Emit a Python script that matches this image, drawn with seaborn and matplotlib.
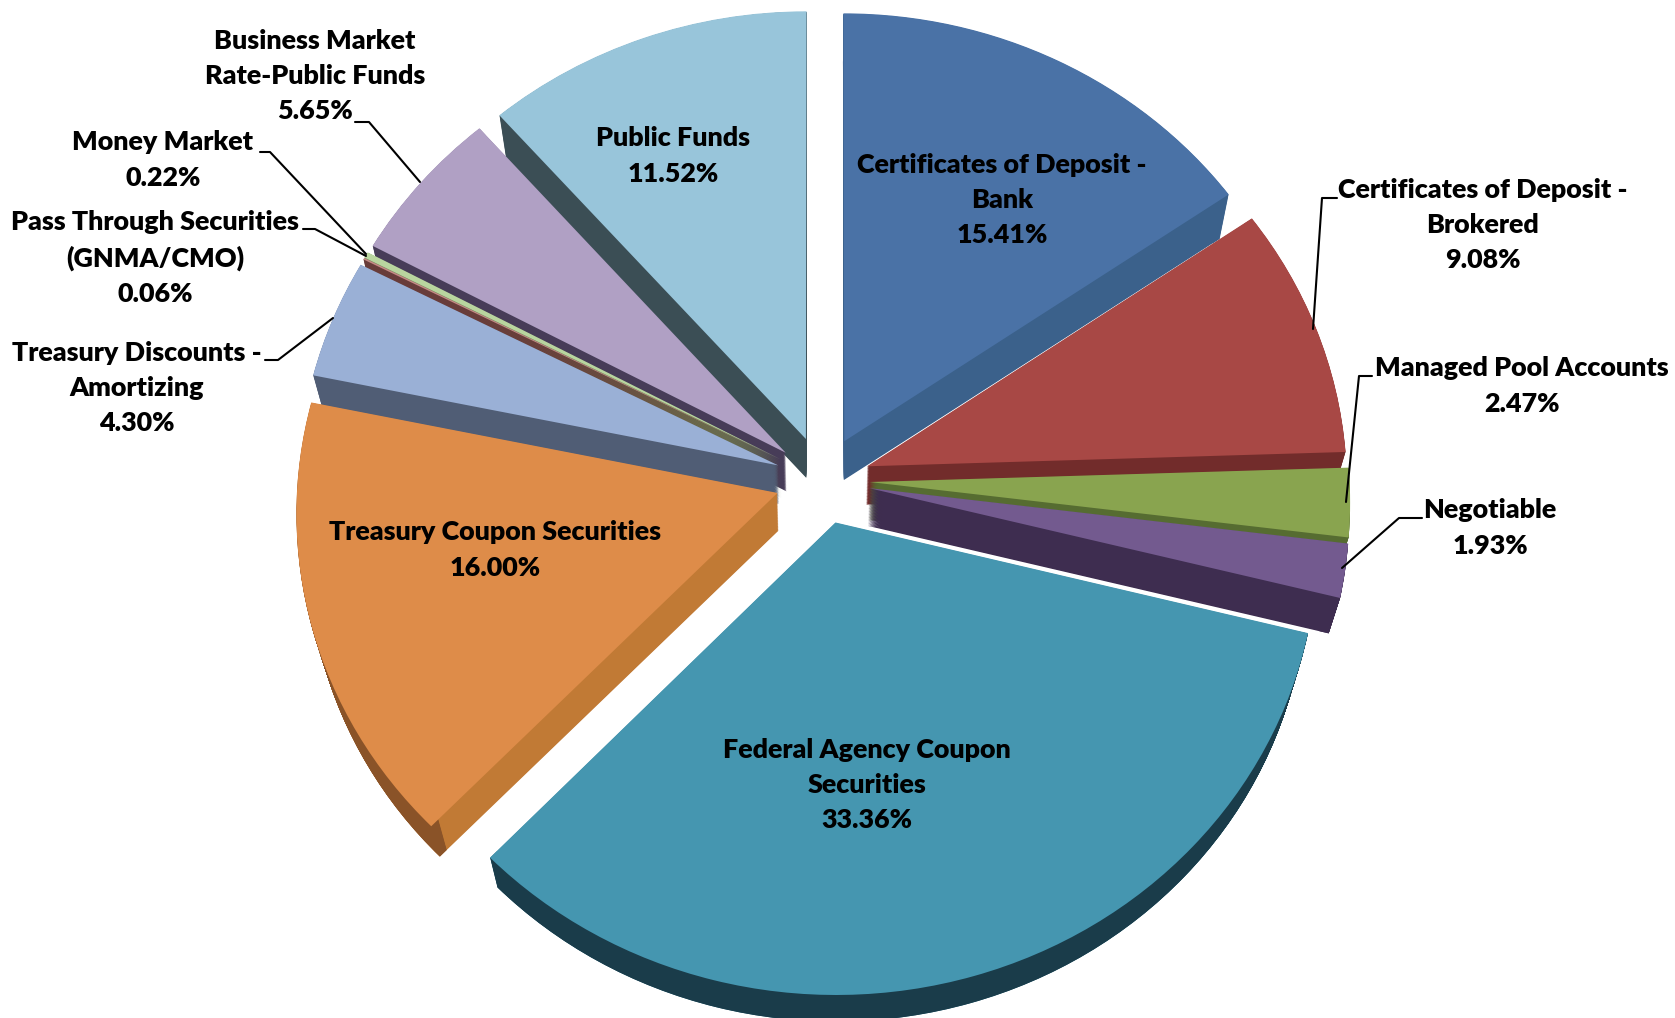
import matplotlib
matplotlib.use("Agg")
import matplotlib.pyplot as plt
import numpy as np
import seaborn as sns
from matplotlib.transforms import Affine2D, Transform

names = [
    "Certificates of Deposit -\nBank",
    "Certificates of Deposit -\nBrokered",
    "Managed Pool Accounts",
    "Negotiable",
    "Federal Agency Coupon\nSecurities",
    "Treasury Coupon Securities",
    "Treasury Discounts -\nAmortizing",
    "Pass Through Securities\n(GNMA/CMO)",
    "Money Market",
    "Business Market\nRate-Public Funds",
    "Public Funds",
]
shares = [15.41, 9.08, 2.47, 1.93, 33.36, 16.00, 4.30, 0.06, 0.22, 5.65, 11.52]

top_colors = ["#4a72a6", "#a84845", "#89a44f", "#735a8f", "#4596b0", "#de8c49",
              "#9ab0d6", "#c48a86", "#b9d59f", "#b0a0c4", "#98c5da"]
cut_colors = ["#3b618b", "#722c2b", "#566c31", "#3e2d50", "#2f7186", "#c17a35",
              "#505d75", "#683c3a", "#6e8c5a", "#473c58", "#3b4e55"]
rim_colors = ["#3b618b", "#722c2b", "#566c31", "#3e2d50", "#1a3c4a", "#8a5328",
              "#505d75", "#683c3a", "#6e8c5a", "#473c58", "#3b4e55"]

# label centres and leader lines, in picture pixels
label_xy = [(1002, 200), (1483, 225), (1522, 386), (1490, 528), (867, 785), (495, 550),
            (137, 388), (155, 258), (163, 160), (315, 76), (673, 156)]
leaders = [
    [(1337, 198), (1322, 198), (1313, 329)],
    [(1372, 376), (1359, 376), (1346, 502)],
    [(1422, 518), (1399, 518), (1342, 568)],
    [(265, 360), (278, 360), (333, 318)],
    [(303, 229), (315, 229), (366, 256)],
    [(260, 152), (270, 152), (366, 254)],
    [(355, 122), (369, 122), (420, 182)],
]

CX, CY = 822.5, 480
DEPTH = 38
SHRINK = 0.022
EXPLODE = 0.098


class Tilt(Transform):
    """Pie plane to picture pixels, slightly bigger towards the viewer."""
    input_dims = 2
    output_dims = 2

    def transform_non_affine(self, values):
        xy = np.asarray(values, dtype=float)
        w = 1 + 0.042 * xy[:, 1]
        return np.column_stack([CX + 480 * xy[:, 0] / w, CY - 449 * xy[:, 1] / w])


sns.set_theme(style="white")
plt.rcParams["font.family"] = ["Lato", "DejaVu Sans"]

fig = plt.figure(figsize=(16.75, 10.18), dpi=100)
ax = fig.add_axes([0, 0, 1, 1])

# back slices first, so that the side walls of front slices lie over them
edges = np.cumsum([0] + shares) / sum(shares) * 2 * np.pi
mids = (edges[:-1] + edges[1:]) / 2
rank = np.argsort(np.argsort(-np.cos(mids)))


def draw_layer(colors, depth, level, width=None):
    props = {"linewidth": 0}
    if width:
        props["width"] = width
    wedges, _ = ax.pie(shares, colors=sns.color_palette(colors), startangle=90, counterclock=False,
                       explode=[EXPLODE] * len(shares), wedgeprops=props)
    # deeper layers shrink towards the centre, as in a perspective view
    s = 1 - SHRINK * depth / DEPTH
    tr = Tilt() + Affine2D().translate(-CX, -CY).scale(s).translate(CX, CY + depth) + ax.transData
    for i, w in enumerate(wedges):
        w.set_transform(tr)
        w.set_zorder(rank[i] + level)


for d in np.arange(DEPTH, 0, -0.75):
    draw_layer(cut_colors, d, 1.2)
    draw_layer(rim_colors, d, 1.5, width=0.02)
draw_layer(top_colors, 0, 1.9)

ax.set_aspect("auto")
ax.set_xlim(0, 1675)
ax.set_ylim(1018, 0)
ax.axis("off")

for name, share, (x, y) in zip(names, shares, label_xy):
    ax.text(x, y, f"{name}\n{share:.2f}%", ha="center", va="center", fontsize=19.4, fontweight="heavy",
            color="black", linespacing=1.57, zorder=50)

for line in leaders:
    ax.plot([p[0] for p in line], [p[1] for p in line], color="black", lw=1.5, zorder=49)

fig.savefig("out.png", dpi=100, facecolor="white")
